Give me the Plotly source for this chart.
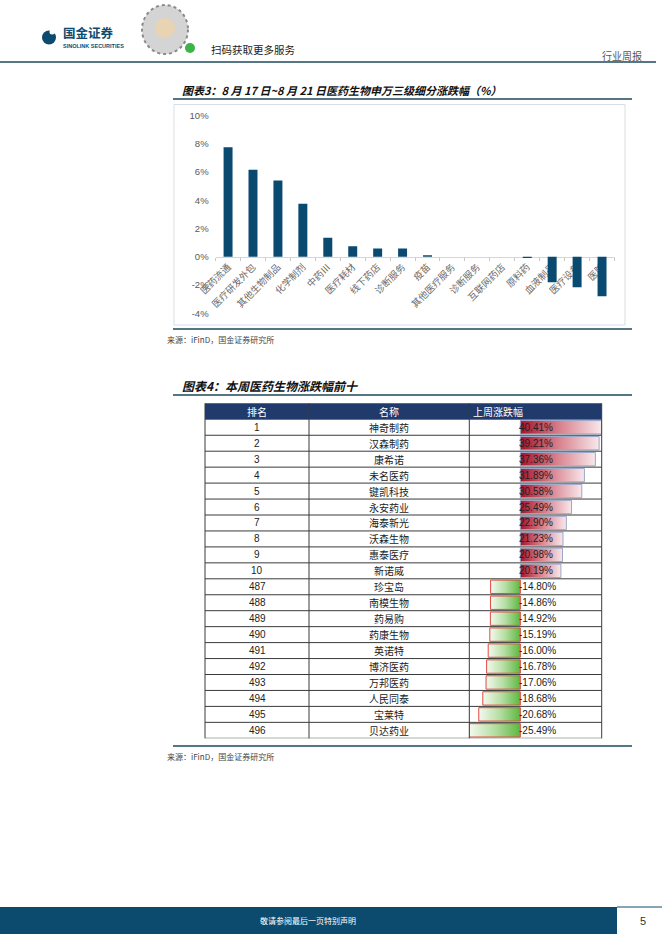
import plotly.graph_objects as go

W, H = 662, 936
def px(x): return x / W
def py(y): return 1 - y / H

# ---------------- data: chart 3 ----------------
categories = ["医药流通", "医疗研发外包", "其他生物制品", "化学制剂", "中药Ⅲ", "医疗耗材",
              "线下药店", "诊断服务", "疫苗", "其他医疗服务", "诊断服务", "互联网药店",
              "原料药", "血液制品", "医疗设备", "医院"]
changes_pct = [7.77, 6.17, 5.41, 3.76, 1.35, 0.75, 0.59, 0.59, 0.12, 0.0, 0.0, 0.0,
               -0.08, -1.80, -2.16, -2.79]
y_ticks = [-4, -2, 0, 2, 4, 6, 8, 10]

# ---------------- data: table 4 ----------------
ranks = [1, 2, 3, 4, 5, 6, 7, 8, 9, 10, 487, 488, 489, 490, 491, 492, 493, 494, 495, 496]
names = ["神奇制药", "汉森制药", "康希诺", "未名医药", "键凯科技", "永安药业", "海泰新光",
         "沃森生物", "惠泰医疗", "新诺威", "珍宝岛", "南模生物", "药易购", "药康生物",
         "英诺特", "博济医药", "万邦医药", "人民同泰", "宝莱特", "贝达药业"]
weekly = [40.41, 39.21, 37.36, 31.89, 30.58, 25.49, 22.90, 21.23, 20.98, 20.19,
          -14.80, -14.86, -14.92, -15.19, -16.00, -16.78, -17.06, -18.68, -20.68, -25.49]
headers = ["排名", "名称", "上周涨跌幅"]

CJK = "Noto Sans CJK SC"
NAVY = "#0d4b6e"
LINE = "#1b4a5a"

fig = go.Figure()

# chart 3 bars
idx = list(range(len(categories)))
fig.add_trace(go.Bar(x=idx, y=changes_pct, width=0.36, marker=dict(color="#0b4a70", line=dict(width=0)),
                     xaxis="x", yaxis="y", showlegend=False, hoverinfo="skip"))

# table 4 data bars (gradient filled polygons)
half = 0.42
for i, v in enumerate(weekly):
    if v >= 0:
        cs = [[0, "#a3142b"], [0.5, "#d9848f"], [1, "#f8e8ec"]]
        lc = "#9aa6c8"
    else:
        cs = [[0, "#f3faef"], [0.5, "#b5dea3"], [1, "#5cb840"]]
        lc = "#e04a44"
    fig.add_trace(go.Scatter(
        x=[0, v, v, 0, 0], y=[i - half, i - half, i + half, i + half, i - half],
        mode="lines", fill="toself", line=dict(color=lc, width=1),
        fillgradient=dict(type="horizontal", colorscale=cs),
        xaxis="x2", yaxis="y2", showlegend=False, hoverinfo="skip"))

# chart axes geometry
y_top, y_bot = 115.7, 313.3
ymin, ymax = -4, 10
zero_px = y_top + (ymax - 0) / (ymax - ymin) * (y_bot - y_top)

tab_top, tab_head_bot, tab_bot = 403.3, 419.3, 738.3
col_x = [205, 309, 469.3, 601.7]

fig.update_layout(
    width=W, height=H, margin=dict(l=0, r=0, t=0, b=0, pad=0, autoexpand=False),
    paper_bgcolor="white", plot_bgcolor="rgba(0,0,0,0)", showlegend=False,
    xaxis=dict(domain=[px(215.6), px(614.5)], range=[-0.5, len(categories) - 0.5],
               anchor="free", position=py(zero_px), automargin=False,
               tickmode="array", tickvals=idx, ticktext=categories, tickangle=-45,
               ticks="", showline=True, linecolor="#d6d6d6", linewidth=1,
               showgrid=False, zeroline=False, layer="below traces",
               minor=dict(ticks="outside", tickmode="linear", tick0=0.5, dtick=1,
                          ticklen=3, tickcolor="#c8c8c8", showgrid=False),
               tickfont=dict(family=CJK, size=9.5, color="#6a6a6a"), fixedrange=True),
    yaxis=dict(domain=[py(y_bot), py(y_top)], range=[ymin, ymax], anchor="x", automargin=False,
               tickmode="array", tickvals=y_ticks, ticktext=[f"{t}%" for t in y_ticks],
               showgrid=False, zeroline=False, showline=False, ticks="",
               ticklabelstandoff=6,
               tickfont=dict(family="Liberation Sans", size=9.5, color="#595959"), fixedrange=True),
    xaxis2=dict(domain=[px(col_x[2]), px(col_x[3])], range=[-25.4, 40.5], anchor="y2",
                visible=False, fixedrange=True, automargin=False),
    yaxis2=dict(domain=[py(tab_bot), py(tab_head_bot)], range=[len(ranks) - 0.5, -0.5],
                anchor="x2", visible=False, fixedrange=True, automargin=False),
)

shapes = []
ann = []

def hline(y, x0, x1, color, w):
    shapes.append(dict(type="line", xref="paper", yref="paper", x0=px(x0), x1=px(x1),
                       y0=py(y), y1=py(y), line=dict(color=color, width=w)))

def text(x, y, s, size, color="#222", family=CJK, xanchor="left", **kw):
    ann.append(dict(xref="paper", yref="paper", x=px(x), y=py(y), text=s, showarrow=False,
                    xanchor=xanchor, yanchor="middle", font=dict(family=family, size=size, color=color), **kw))

# ---------- page header ----------
shapes.append(dict(type="circle", xref="paper", yref="paper", x0=px(42), x1=px(56), y0=py(44.5), y1=py(30.5),
                   fillcolor=NAVY, line=dict(width=0)))
shapes.append(dict(type="circle", xref="paper", yref="paper", x0=px(49.5), x1=px(55), y0=py(34.5), y1=py(29.5),
                   fillcolor="white", line=dict(width=0)))
text(61, 32.5, "<b>国金证券</b>", 12.5, NAVY)
text(61, 45.5, "<b>SINOLINK SECURITIES</b>", 5.5, NAVY, family="Liberation Sans")
# QR code block
shapes.append(dict(type="circle", xref="paper", yref="paper", x0=px(142), x1=px(188), y0=py(54), y1=py(5),
                   fillcolor="#d4d4d4", line=dict(color="#8a8a8a", width=2, dash="dot")))
shapes.append(dict(type="circle", xref="paper", yref="paper", x0=px(155), x1=px(175), y0=py(38), y1=py(18),
                   fillcolor="#e8d3b3", line=dict(width=0)))
shapes.append(dict(type="circle", xref="paper", yref="paper", x0=px(185), x1=px(195), y0=py(53), y1=py(43),
                   fillcolor="#3cb44a", line=dict(width=0)))
text(209, 49, "扫码获取更多服务", 10.5, "#222")
text(622, 55.5, "行业周报", 10, "#555", xanchor="center")
hline(62, 0, 656, LINE, 1.5)

# ---------- chart 3 frame & titles ----------
text(180, 90, "<b><i>图表3：8 月 17 日~8 月 21 日医药生物申万三级细分涨跌幅（%）</i></b>", 11, "#111")
hline(99, 173, 632, LINE, 1.5)
shapes.append(dict(type="rect", xref="paper", yref="paper", x0=px(174), x1=px(625), y0=py(325), y1=py(104.5),
                   line=dict(color="#d9dee4", width=1), fillcolor="rgba(0,0,0,0)"))
hline(329, 173, 632, LINE, 1.5)
text(165, 339, "来源：iFinD，国金证券研究所", 8, "#444")

# ---------- table 4 ----------
text(180, 385, "<b><i>图表4：本周医药生物涨跌幅前十</i></b>", 12, "#111")
hline(395, 173, 632, LINE, 1.5)
shapes.append(dict(type="rect", xref="paper", yref="paper", x0=px(col_x[0]), x1=px(col_x[3]),
                   y0=py(tab_head_bot), y1=py(tab_top), fillcolor="#1f3a6b", line=dict(width=0), layer="below"))
for k in range(len(ranks) + 1):
    shapes.append(dict(type="line", xref="paper", yref="y2", x0=px(col_x[0]), x1=px(col_x[3]),
                       y0=k - 0.5, y1=k - 0.5, line=dict(color="#3a3a3a", width=1)))
for cx in col_x:
    shapes.append(dict(type="line", xref="paper", yref="paper", x0=px(cx), x1=px(cx),
                       y0=py(tab_top), y1=py(tab_bot), line=dict(color="#3a3a3a", width=1)))
head_y = (tab_top + tab_head_bot) / 2
text((col_x[0] + col_x[1]) / 2, head_y, headers[0], 10, "white", xanchor="center")
text((col_x[1] + col_x[2]) / 2, head_y, headers[1], 10, "white", xanchor="center")
text(col_x[2] + 1.5, head_y, headers[2], 10, "white")
for i in range(len(ranks)):
    ann.append(dict(xref="paper", yref="y2", x=px((col_x[0] + col_x[1]) / 2), y=i, text=str(ranks[i]),
                    showarrow=False, xanchor="center", yanchor="middle",
                    font=dict(family="Liberation Sans", size=10, color="#222")))
    ann.append(dict(xref="paper", yref="y2", x=px((col_x[1] + col_x[2]) / 2), y=i, text=names[i],
                    showarrow=False, xanchor="center", yanchor="middle",
                    font=dict(family=CJK, size=10, color="#222")))
    ann.append(dict(xref="x2", yref="y2", x=0, y=i, text=f"{weekly[i]:.2f}%", xshift=-3,
                    showarrow=False, xanchor="left", yanchor="middle",
                    font=dict(family="Liberation Sans", size=10, color="#222")))
hline(746, 173, 632, LINE, 1.5)
text(165, 756, "来源：iFinD，国金证券研究所", 8, "#444")

# ---------- footer ----------
shapes.append(dict(type="rect", xref="paper", yref="paper", x0=0, x1=px(617), y0=py(934), y1=py(907),
                   fillcolor=NAVY, line=dict(width=0)))
hline(907, 617, 662, NAVY, 1)
text(308, 920.5, "敬请参阅最后一页特别声明", 8, "white", xanchor="center")
text(643, 920.5, "5", 11, "#333", family="Liberation Sans", xanchor="center")

fig.update_layout(shapes=shapes, annotations=ann)
fig.write_html("out.html", config={"displayModeBar": False, "staticPlot": True},
               post_script="document.body.style.margin='0';document.body.style.padding='0';document.body.style.overflow='hidden';")
